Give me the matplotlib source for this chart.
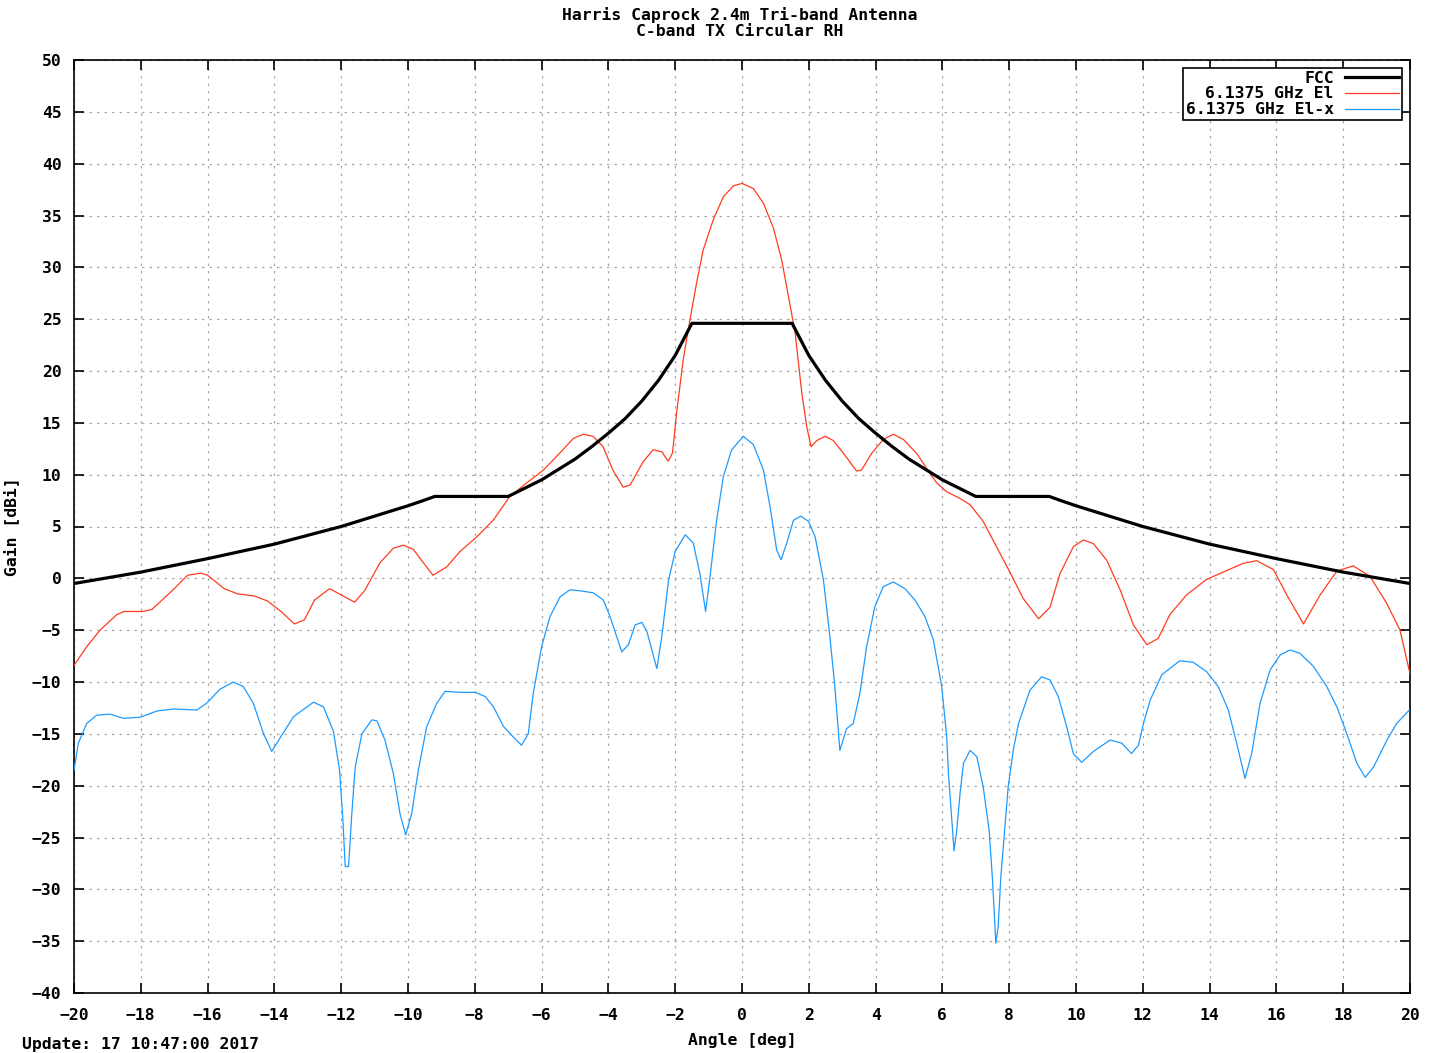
import matplotlib
matplotlib.use('Agg')
import matplotlib.pyplot as plt
import numpy as np

# FCC mask
fcc_angle = [-20, -19, -18, -17, -16, -15, -14, -13, -12, -11, -10, -9.5, -9.2, -7,
             -6.5, -6, -5.5, -5, -4.5, -4, -3.5, -3, -2.5, -2, -1.5,
             1.5, 2, 2.5, 3, 3.5, 4, 4.5, 5, 5.5, 6, 6.5,
             7, 9.2, 9.5, 10, 11, 12, 13, 14, 15, 16, 17, 18, 19, 20]
fcc_gain = [-0.5, 0.05, 0.6, 1.25, 1.9, 2.6, 3.3, 4.15, 5.0, 6.0, 7.0, 7.55, 7.9, 7.9,
            8.7, 9.5, 10.5, 11.5, 12.7, 14.0, 15.4, 17.1, 19.1, 21.5, 24.6,
            24.6, 21.5, 19.1, 17.1, 15.4, 14.0, 12.7, 11.5, 10.5, 9.5, 8.7,
            7.9, 7.9, 7.55, 7.0, 6.0, 5.0, 4.15, 3.3, 2.6, 1.9, 1.25, 0.6, 0.05, -0.5]

# 6.1375 GHz El (co-pol)
el_angle = [-20.0, -19.62, -19.22, -18.72, -18.5, -17.95, -17.67, -17.43, -17.0, -16.6,
            -16.2, -16.0, -15.5, -15.1, -14.6, -14.2, -13.8, -13.4, -13.1, -12.8,
            -12.35, -12.0, -11.6, -11.3, -10.84, -10.44, -10.14, -9.84, -9.54, -9.25,
            -8.84, -8.44, -7.94, -7.45, -6.95, -6.45, -5.96, -5.45, -5.05, -4.75,
            -4.46, -4.16, -3.86, -3.56, -3.35, -2.96, -2.66, -2.40, -2.21, -2.08,
            -1.96, -1.76, -1.56, -1.36, -1.16, -0.86, -0.56, -0.26, 0.0, 0.34,
            0.64, 0.94, 1.19, 1.39, 1.59, 1.79, 1.94, 2.07, 2.24, 2.49,
            2.73, 3.03, 3.43, 3.58, 3.88, 4.23, 4.53, 4.83, 5.23, 5.53,
            5.83, 6.13, 6.53, 6.83, 7.22, 7.62, 8.02, 8.42, 8.88, 9.22,
            9.52, 9.92, 10.22, 10.52, 10.92, 11.32, 11.72, 12.12, 12.46, 12.81,
            13.31, 13.91, 14.51, 15.01, 15.41, 15.91, 16.31, 16.81, 17.31, 17.81,
            18.3, 18.8, 19.3, 19.7, 20.0]
el_gain = [-8.4, -6.6, -5.0, -3.5, -3.2, -3.2, -3.0, -2.3, -1.0, 0.3,
           0.5, 0.3, -1.0, -1.5, -1.7, -2.2, -3.2, -4.4, -4.0, -2.1,
           -1.0, -1.6, -2.3, -1.2, 1.5, 2.9, 3.2, 2.8, 1.5, 0.3,
           1.1, 2.6, 4.0, 5.6, 7.9, 9.2, 10.4, 12.1, 13.5, 13.9,
           13.7, 12.7, 10.4, 8.8, 9.0, 11.25, 12.4, 12.2, 11.3, 12.1,
           15.9, 21.1, 24.9, 28.5, 31.7, 34.6, 36.8, 37.85, 38.1, 37.6,
           36.2, 33.8, 30.7, 27.2, 23.7, 17.9, 14.6, 12.7, 13.3, 13.7,
           13.3, 12.1, 10.35, 10.45, 12.05, 13.4, 13.9, 13.4, 12.05, 10.6,
           9.2, 8.35, 7.7, 7.1, 5.5, 3.05, 0.6, -1.95, -3.9, -2.8,
           0.45, 3.05, 3.7, 3.35, 1.75, -1.1, -4.5, -6.4, -5.8, -3.5,
           -1.6, -0.1, 0.75, 1.45, 1.7, 0.85, -1.6, -4.4, -1.6, 0.7,
           1.2, 0.2, -2.4, -5.0, -9.2]

# 6.1375 GHz El-x (cross-pol)
elx_angle = [-20.0, -19.87, -19.62, -19.32, -18.92, -18.52, -18.02, -17.52, -17.02, -16.32,
             -16.03, -15.63, -15.23, -14.93, -14.63, -14.33, -14.08, -13.83, -13.43, -12.83,
             -12.53, -12.23, -12.05, -11.95, -11.88, -11.78, -11.68, -11.58, -11.38, -11.08,
             -10.93, -10.69, -10.44, -10.24, -10.07, -9.89, -9.69, -9.44, -9.14, -8.89,
             -8.44, -7.99, -7.69, -7.44, -7.14, -6.85, -6.6, -6.4, -6.25, -6.0,
             -5.75, -5.45, -5.15, -4.85, -4.45, -4.15, -3.95, -3.6, -3.4, -3.2,
             -3.0, -2.85, -2.55, -2.4, -2.2, -2.0, -1.7, -1.46, -1.26, -1.09,
             -0.96, -0.76, -0.56, -0.31, 0.04, 0.34, 0.64, 0.84, 1.04, 1.17,
             1.34, 1.54, 1.76, 1.99, 2.19, 2.44, 2.63, 2.78, 2.93, 3.13,
             3.33, 3.53, 3.73, 3.98, 4.23, 4.53, 4.88, 5.18, 5.48, 5.73,
             5.98, 6.13, 6.18, 6.28, 6.35, 6.43, 6.53, 6.63, 6.83, 7.03,
             7.22, 7.4, 7.5, 7.6, 7.67, 7.75, 7.84, 7.97, 8.12, 8.28,
             8.62, 8.97, 9.22, 9.47, 9.72, 9.92, 10.17, 10.52, 11.02, 11.37,
             11.66, 11.87, 12.02, 12.22, 12.57, 13.11, 13.51, 13.91, 14.26, 14.56,
             14.81, 15.06, 15.26, 15.51, 15.81, 16.11, 16.41, 16.71, 17.11, 17.51,
             17.81, 18.11, 18.41, 18.66, 18.91, 19.31, 19.6, 19.98]
elx_gain = [-18.5, -15.9, -14.0, -13.2, -13.1, -13.5, -13.4, -12.8, -12.6, -12.7,
            -12.05, -10.7, -10.0, -10.45, -12.05, -14.95, -16.7, -15.4, -13.35, -11.95,
            -12.4, -14.8, -18.5, -23.3, -27.8, -27.8, -22.6, -18.2, -15.0, -13.65,
            -13.75, -15.6, -18.8, -22.7, -24.75, -22.7, -18.5, -14.3, -12.05, -10.9,
            -11.0, -11.0, -11.4, -12.4, -14.3, -15.3, -16.1, -15.0, -11.1, -6.6,
            -3.7, -1.8, -1.1, -1.2, -1.4, -2.1, -3.7, -7.1, -6.4, -4.5,
            -4.25, -5.1, -8.7, -5.6, -0.2, 2.6, 4.2, 3.4, 0.45, -3.2,
            0.1, 5.6, 9.8, 12.4, 13.7, 12.9, 10.45, 6.9, 2.7, 1.8,
            3.4, 5.6, 6.0, 5.5, 4.0, -0.2, -5.6, -10.45, -16.6, -14.5,
            -14.0, -11.1, -6.6, -2.7, -0.8, -0.35, -1.0, -2.1, -3.7, -5.95,
            -10.45, -15.3, -18.8, -23.3, -26.3, -24.3, -20.7, -17.85, -16.6, -17.2,
            -20.1, -24.3, -29.1, -35.2, -33.6, -28.8, -25.2, -20.1, -16.6, -14.0,
            -10.8, -9.5, -9.8, -11.4, -14.3, -16.9, -17.75, -16.7, -15.6, -15.9,
            -16.9, -16.1, -14.0, -11.75, -9.3, -7.95, -8.1, -9.0, -10.45, -12.7,
            -15.9, -19.3, -16.9, -12.05, -8.85, -7.4, -6.9, -7.25, -8.5, -10.45,
            -12.4, -15.0, -17.85, -19.2, -18.2, -15.6, -14.0, -12.7]

mono = 'DejaVu Sans Mono'
fs = 11.8
plt.rcParams['font.family'] = mono
plt.rcParams['font.weight'] = 'bold'
plt.rcParams['font.size'] = fs

fig = plt.figure(figsize=(14.46, 10.53), dpi=100)
ax = fig.add_axes([74 / 1446, 1 - 993 / 1053, (1410 - 74) / 1446, (993 - 60) / 1053])

ax.plot(fcc_angle, fcc_gain, color='black', lw=2.3, label='FCC', zorder=4)
ax.plot(el_angle, el_gain, color='#ff3c1e', lw=0.9, label='6.1375 GHz El', zorder=3)
ax.plot(elx_angle, elx_gain, color='#1e9bff', lw=0.9, label='6.1375 GHz El-x', zorder=3)

ax.set_xlim(-20, 20)
ax.set_ylim(-40, 50)
ax.set_xticks(np.arange(-20, 21, 2))
ax.set_yticks(np.arange(-40, 51, 5))
ax.grid(True, color='#a8a8a8', lw=0.9, linestyle=(0, (2, 4)))
ax.tick_params(direction='in', length=7, width=1.2, top=True, right=True, labelsize=fs)
ax.tick_params(axis='x', pad=11)
ax.tick_params(axis='y', pad=9)
for s in ax.spines.values():
    s.set_linewidth(1.2)

ax.set_xlabel('Angle [deg]', fontsize=fs, fontweight='bold', labelpad=7)
ax.set_ylabel('Gain [dBi]', fontsize=fs, fontweight='bold', labelpad=9)

fig.text(740 / 1446, 1 - 23 / 1053, 'Harris Caprock 2.4m Tri-band Antenna\nC-band TX Circular RH',
         ha='center', va='center', fontsize=fs, fontweight='bold', linespacing=1.1)
fig.text(22 / 1446, 1 - 1052 / 1053, 'Update: 17 10:47:00 2017', ha='left', va='bottom',
         fontsize=fs, fontweight='bold')

leg = ax.legend(loc='upper right', markerfirst=False, fancybox=False, frameon=True,
                edgecolor='black', framealpha=1, fontsize=fs, handlelength=3.3,
                handletextpad=0.7, labelspacing=0.05, borderpad=0.15,
                borderaxespad=0.5)
leg.get_frame().set_linewidth(1.2)
for t in leg.get_texts():
    t.set_ha('right')

fig.savefig('out.png', dpi=100)
